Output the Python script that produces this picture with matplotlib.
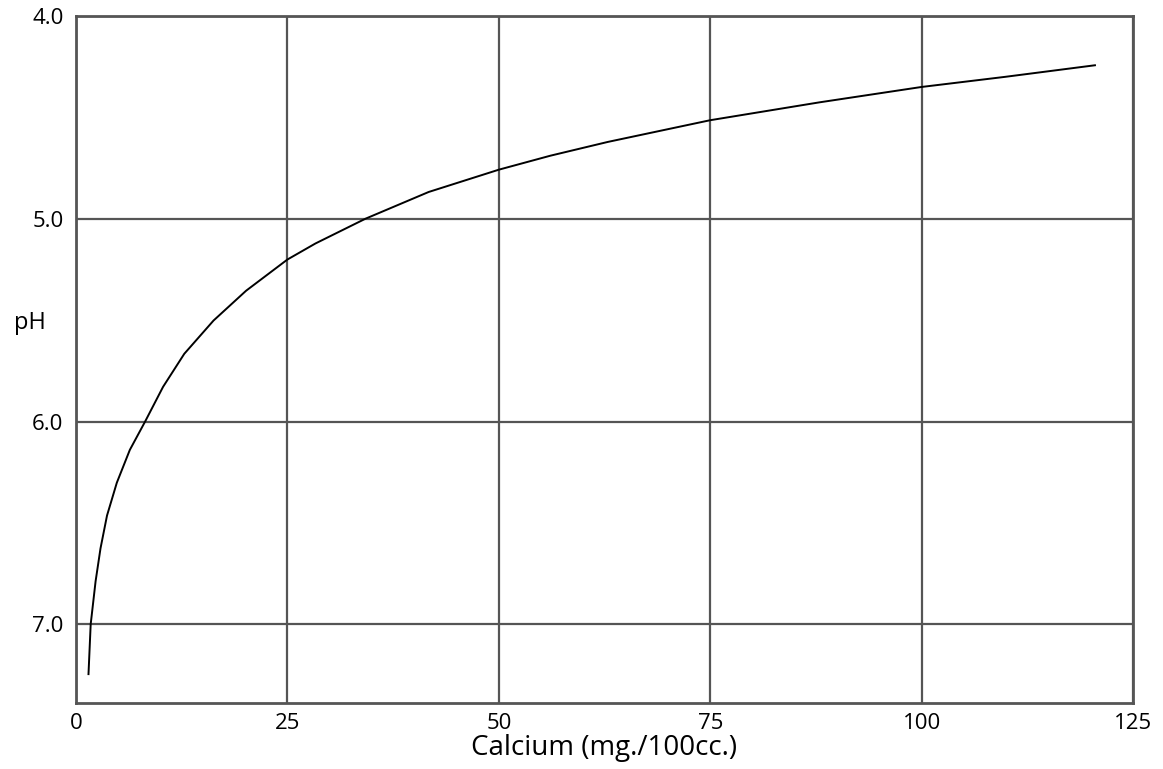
import matplotlib
matplotlib.use('Agg')
import matplotlib.pyplot as plt

# calcium (mg./100cc.) vs pH
calcium = [1.47, 1.73, 2.31, 2.89, 3.66, 4.82, 6.36, 8.17, 10.29, 12.8, 16.26, 20.11,
           25.0, 28.31, 34.22, 41.7, 50.0, 56.1, 62.9, 75.0, 87.9, 100.0, 109.9, 120.5]
ph = [7.246, 7.0, 6.788, 6.626, 6.464, 6.302, 6.14, 6.0, 5.829, 5.666, 5.502, 5.355,
      5.201, 5.122, 5.0, 4.868, 4.758, 4.689, 4.621, 4.514, 4.426, 4.35, 4.3, 4.243]

x_ticks = [0, 25, 50, 75, 100, 125]
y_ticks = [4.0, 5.0, 6.0, 7.0]
y_tick_labels = ['4.0', '5.0', '6.0', '7.0']

plt.rcParams['font.family'] = ['Open Sans', 'DejaVu Sans']

fig = plt.figure(figsize=(11.63, 7.69), dpi=100)
ax = fig.add_axes([0.0654, 0.0854, 0.9088, 0.8938])

grid_color = '#555555'
ax.plot(calcium, ph, color='black', linewidth=1.4, zorder=3)

ax.set_xlim(0, 125)
ax.set_ylim(7.39, 4.0)
ax.set_xticks(x_ticks)
ax.set_yticks(y_ticks)
ax.set_yticklabels(y_tick_labels)
ax.grid(True, color=grid_color, linewidth=1.6)
ax.tick_params(length=0, labelsize=16)
ax.tick_params(axis='y', pad=9)
ax.tick_params(axis='x', pad=7)

for s in ax.spines.values():
    s.set_color(grid_color)
    s.set_linewidth(2)

ax.set_xlabel('Calcium (mg./100cc.)', fontsize=20, labelpad=0)
ax.set_ylabel('pH', fontsize=17, rotation=0, ha='center', va='center')
ax.yaxis.set_label_coords(-0.0435, 0.553)

fig.savefig('out.png', dpi=100, facecolor='white')
